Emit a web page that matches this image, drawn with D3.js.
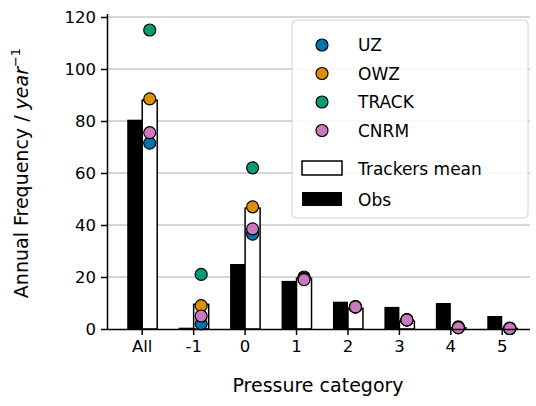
<!DOCTYPE html>
<html><head><meta charset="utf-8">
<script src="https://cdn.jsdelivr.net/npm/d3@7"></script>
<style>body{margin:0;background:#fff}text{font-family:"DejaVu Sans",sans-serif}</style>
</head><body><svg width="536" height="406"></svg>
<script>
const categories = ["All", "-1", "0", "1", "2", "3", "4", "5"];
const obs = [80.5, 0.5, 25, 18.5, 10.5, 8.5, 10, 5];
const trackersMean = [88, 9.5, 46.5, 19.5, 8, 3, 0.5, 0.2];
const uz = [71.5, 2, 36.5, 19.5, 8.5, 3.5, 0.5, 0.2];
const owz = [88.5, 9, 47, 20, 8.5, 3.5, 0.8, 0.3];
const track = [115, 21, 62, 19.5, 8.5, 3.5, 0.5, 0.2];
const cnrm = [75.5, 5, 38.5, 19, 8.5, 3.5, 0.5, 0.2];
const yTicks = [0, 20, 40, 60, 80, 100, 120];

const svg = d3.select("svg");
const margin = { top: 17, left: 107, right: 530, bottom: 329 };
const x = d3.scaleBand().domain(categories).range([116.5, 528]).paddingInner(0).paddingOuter(0);
const y = d3.scaleLinear().domain([0, 120]).range([margin.bottom, margin.top]);
const bw = 15;
const cx = c => x(c) + x.bandwidth() / 2;

// grid
svg.append("g").selectAll("line").data(yTicks.slice(1)).enter().append("line")
    .attr("x1", margin.left).attr("x2", margin.right)
    .attr("y1", d => y(d)).attr("y2", d => y(d))
    .attr("stroke", "#c8c8c8").attr("stroke-width", 1.5);

// bars
svg.append("g").selectAll("rect").data(categories).enter().append("rect")
    .attr("x", c => cx(c) - bw).attr("width", bw)
    .attr("y", (c, i) => y(obs[i])).attr("height", (c, i) => y(0) - y(obs[i]))
    .attr("fill", "black");
svg.append("g").selectAll("rect").data(categories).enter().append("rect")
    .attr("x", c => cx(c)).attr("width", bw)
    .attr("y", (c, i) => y(trackersMean[i])).attr("height", (c, i) => y(0) - y(trackersMean[i]))
    .attr("fill", "white").attr("stroke", "black").attr("stroke-width", 1.5);

const series = [
    { name: "UZ", vals: uz, color: "#0173b2" },
    { name: "OWZ", vals: owz, color: "#de8f05" },
    { name: "TRACK", vals: track, color: "#029e73" },
    { name: "CNRM", vals: cnrm, color: "#cc78bc" }
];
series.forEach(s => {
    svg.append("g").selectAll("circle").data(categories).enter().append("circle")
        .attr("cx", c => cx(c) + bw / 2).attr("cy", (c, i) => y(s.vals[i]))
        .attr("r", 6).attr("fill", s.color).attr("stroke", "black").attr("stroke-width", 1.2);
});

// axes
const xa = svg.append("g").attr("transform", `translate(0,${margin.bottom})`)
    .call(d3.axisBottom(x).tickSize(6).tickPadding(5));
xa.select(".domain").attr("d", `M${margin.left},0.5H${margin.right}`);
const ya = svg.append("g").attr("transform", `translate(${margin.left},0)`)
    .call(d3.axisLeft(y).tickValues(yTicks).tickSize(6).tickPadding(5));
[xa, ya].forEach(a => {
    a.selectAll("text").attr("font-size", 16.5).attr("fill", "black");
    a.selectAll("line,.domain").attr("stroke", "black").attr("stroke-width", 1.5);
});
ya.select(".domain").attr("d", `M0.5,${margin.top - 3}V${margin.bottom}`);

svg.append("text").attr("x", 318).attr("y", 392).attr("text-anchor", "middle")
    .attr("font-size", 19).text("Pressure category");
const yl = svg.append("text").attr("transform", "translate(28,173) rotate(-90)")
    .attr("text-anchor", "middle").attr("font-size", 19);
yl.append("tspan").text("Annual Frequency / ");
yl.append("tspan").attr("font-style", "italic").text("year");
yl.append("tspan").attr("font-size", 13).attr("dy", -8).text("−1");

// legend
const lg = svg.append("g");
lg.append("rect").attr("x", 292).attr("y", 20).attr("width", 236).attr("height", 198).attr("rx", 4)
    .attr("fill", "white").attr("fill-opacity", 0.85).attr("stroke", "#d0d0d0");
series.forEach((s, i) => {
    const yy = 45 + i * 28.5;
    lg.append("circle").attr("cx", 322).attr("cy", yy).attr("r", 6)
        .attr("fill", s.color).attr("stroke", "black").attr("stroke-width", 1.2);
    lg.append("text").attr("x", 358).attr("y", yy + 6).attr("font-size", 17).text(s.name);
});
lg.append("rect").attr("x", 302).attr("y", 161).attr("width", 40).attr("height", 14)
    .attr("fill", "white").attr("stroke", "black").attr("stroke-width", 1.5);
lg.append("text").attr("x", 358).attr("y", 175).attr("font-size", 17).text("Trackers mean");
lg.append("rect").attr("x", 302).attr("y", 192).attr("width", 40).attr("height", 14).attr("fill", "black");
lg.append("text").attr("x", 358).attr("y", 206).attr("font-size", 17).text("Obs");
</script></body></html>
